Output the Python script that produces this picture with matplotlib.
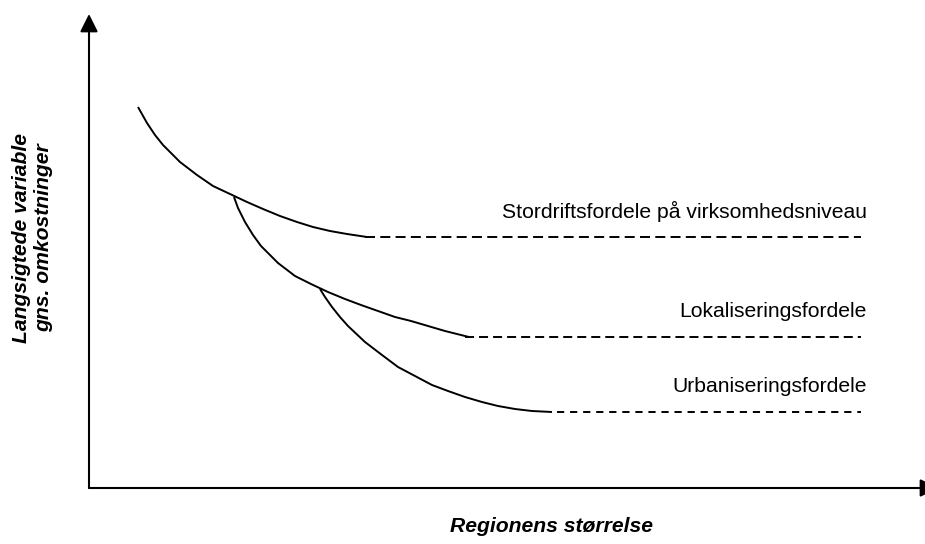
import matplotlib
matplotlib.use("Agg")
import matplotlib.pyplot as plt
from matplotlib.patches import FancyArrowPatch

plt.rcParams['font.family'] = ['Liberation Sans', 'DejaVu Sans']
plt.rcParams['lines.scale_dashes'] = False

# Data (arbitrary units: x = region size, y = long-run avg. cost)
scale_x = [49, 58, 66, 74, 91, 108, 124, 141, 158, 174, 191, 208, 224, 241, 258, 278]
scale_y = [381, 365, 353, 343, 326, 313, 302, 294, 286, 279, 272, 266, 261, 257, 254, 251]
scale_flat_x = [276, 772]

local_x = [145, 149, 156, 164, 172, 189, 206, 222, 239, 256, 272, 289, 306, 322, 339, 356, 380]
local_y = [291, 280, 266, 253, 242, 225, 212, 204, 196, 189, 183, 177, 171, 167, 162, 157, 151]
local_flat_x = [376, 772]

urban_x = [231, 236, 243, 251, 259, 276, 293, 309, 326, 343, 359, 376, 393, 409, 426, 443, 463]
urban_y = [199, 191, 181, 171, 162, 146, 133, 121, 112, 103, 97, 91, 86, 82, 79, 77, 76]
urban_flat_x = [468, 772]

labels = ["Stordriftsfordele på virksomhedsniveau", "Lokaliseringsfordele", "Urbaniseringsfordele"]
label_y = [270, 171, 96]
ylabel_text = "Langsigtede variable\ngns. omkostninger"
xlabel_text = "Regionens størrelse"

fig = plt.figure(figsize=(9.25, 5.44), dpi=100)
ax = fig.add_axes([0, 0, 1, 1])
ax.set_xlim(-89, 836)
ax.set_ylim(-56, 488)
ax.axis('off')

# axes with arrows
ax.add_patch(FancyArrowPatch((0, 0), (0, 474), arrowstyle='-|>,head_length=10.8,head_width=5.4',
                             mutation_scale=1, color='black', lw=1.5, shrinkA=0, shrinkB=0))
ax.add_patch(FancyArrowPatch((0, 0), (849, 0), arrowstyle='-|>,head_length=10.8,head_width=5.4',
                             mutation_scale=1, color='black', lw=1.5, shrinkA=0, shrinkB=0,
                             clip_on=False))

lw = 1.4
for xs, ys, fx, dash in [(scale_x, scale_y, scale_flat_x, (7.2, 3.8)),
                         (local_x, local_y, local_flat_x, (6.5, 3.6)),
                         (urban_x, urban_y, urban_flat_x, (5.2, 4.2))]:
    ax.plot(xs, ys, color='black', lw=lw, solid_capstyle='butt', solid_joinstyle='round')
    ax.plot(fx, [ys[-1], ys[-1]], color='black', lw=lw, linestyle=(0, dash), dash_capstyle='butt')

for t, y in zip(labels, label_y):
    ax.text(778, y, t, ha='right', va='baseline', fontsize=15.2, color='black')

ax.text(-56, 250, ylabel_text, rotation=90, ha='center', va='center', fontsize=15.2,
        fontweight='bold', fontstyle='italic', multialignment='center', linespacing=1.2)
ax.text(462, -39, xlabel_text, ha='center', va='center', fontsize=15.2,
        fontweight='bold', fontstyle='italic')

fig.savefig("out.png", dpi=100)
